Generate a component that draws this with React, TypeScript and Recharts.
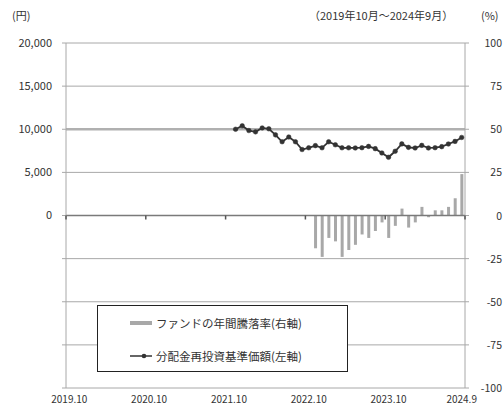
import { ComposedChart, Bar, Line, XAxis, YAxis, CartesianGrid, ReferenceLine } from 'recharts'

// month categories, 2019.10 - 2024.9
const months = [
  '2019.10', '2019.11', '2019.12',
  '2020.1', '2020.2', '2020.3', '2020.4', '2020.5', '2020.6', '2020.7', '2020.8', '2020.9', '2020.10', '2020.11', '2020.12',
  '2021.1', '2021.2', '2021.3', '2021.4', '2021.5', '2021.6', '2021.7', '2021.8', '2021.9', '2021.10', '2021.11', '2021.12',
  '2022.1', '2022.2', '2022.3', '2022.4', '2022.5', '2022.6', '2022.7', '2022.8', '2022.9', '2022.10', '2022.11', '2022.12',
  '2023.1', '2023.2', '2023.3', '2023.4', '2023.5', '2023.6', '2023.7', '2023.8', '2023.9', '2023.10', '2023.11', '2023.12',
  '2024.1', '2024.2', '2024.3', '2024.4', '2024.5', '2024.6', '2024.7', '2024.8', '2024.9',
]

// 分配金再投資基準価額 (円), from 2021.11
const navStart = '2021.11'
const navValues = [
  10000, 10400, 9850, 9700, 10150, 10050, 9350, 8550, 9100, 8550,
  7650, 7850, 8100, 7850, 8550, 8200, 7850, 7850, 7830, 7860,
  8010, 7750, 7250, 6750, 7450, 8300, 7900, 7830, 8130, 7830,
  7860, 7980, 8290, 8590, 9050,
]

// ファンドの年間騰落率 (%), from 2022.11
const returnStart = '2022.11'
const returnValues = [
  -19, -24, -13, -15, -24, -20, -17, -11, -13, -9,
  -4, -13, -6, 4, -7, -4, 5, -1, 3, 3,
  5, 10, 24,
]

const yenTicks = [-20000, -15000, -10000, -5000, 0, 5000, 10000, 15000, 20000]
const pctTicks = [-100, -75, -50, -25, 0, 25, 50, 75, 100]
const labelMonths = ['2019.10', '2020.10', '2021.10', '2022.10', '2023.10', '2024.9']

const navIdx = months.indexOf(navStart)
const retIdx = months.indexOf(returnStart)
const data = months.map((month, i) => ({
  month,
  nav: i >= navIdx ? navValues[i - navIdx] : null,
  ret: i >= retIdx ? returnValues[i - retIdx] : null,
}))

const W = 503
const H = 407
const TOP = 43
const LEFT_W = 66
const RIGHT_W = 38
const X_H = 19
const PLOT_W = W - LEFT_W - RIGHT_W
const PLOT_H = H - TOP - X_H
const BAND = PLOT_W / months.length
const ZERO_Y = TOP + PLOT_H / 2

const GRID = '#a8a8a8'
const INK = '#333'

function MonthTick(props: any) {
  const { x, payload } = props
  const i = months.indexOf(payload.value)
  if (!labelMonths.includes(payload.value)) return null
  const markX = i === months.length - 1 ? x + BAND / 2 : x - BAND / 2
  return (
    <g>
      <line x1={markX} x2={markX} y1={ZERO_Y} y2={ZERO_Y + 4} stroke="#555" strokeWidth={1.5} />
      <text x={x} y={H - 4} textAnchor="middle" fontSize={10} fill={INK}>{payload.value}</text>
    </g>
  )
}

function PctTick(props: any) {
  const { y, payload } = props
  return (
    <text x={W - 1} y={y} dy={4} textAnchor="end" fontSize={10.5} fill={INK}>{payload.value}</text>
  )
}

function LegendBox() {
  return (
    <div style={{
      position: 'absolute', left: 97, top: 305, width: 249, height: 65,
      border: '1.5px solid #222', background: '#fff', fontSize: 11.5, color: INK,
    }}>
      <div style={{ position: 'absolute', left: 32, top: 9, display: 'flex', alignItems: 'center', gap: 4 }}>
        <div style={{ width: 22, height: 4, background: '#a8a8a8' }} />
        <span>ファンドの年間騰落率(右軸)</span>
      </div>
      <div style={{ position: 'absolute', left: 32, top: 42, display: 'flex', alignItems: 'center', gap: 4 }}>
        <svg width={22} height={6}>
          <line x1={0} x2={22} y1={3} y2={3} stroke={INK} strokeWidth={1.5} />
          <circle cx={14} cy={3} r={2.3} fill={INK} />
        </svg>
        <span>分配金再投資基準価額(左軸)</span>
      </div>
    </div>
  )
}

export default function App() {
  return (
    <div style={{
      position: 'fixed', left: 0, top: 0, width: W, height: H, overflow: 'hidden',
      background: '#fff', fontFamily: '"Noto Sans CJK JP", sans-serif', color: INK,
    }}>
      <div style={{ position: 'absolute', left: 12, top: 7, fontSize: 11 }}>(円)</div>
      <div style={{ position: 'absolute', left: 309, top: 7, fontSize: 11 }}>（2019年10月～2024年9月）</div>
      <div style={{ position: 'absolute', left: 481, top: 7, fontSize: 11 }}>(%)</div>

      <ComposedChart
        width={W}
        height={H}
        data={data}
        margin={{ top: TOP, right: 0, bottom: 0, left: 0 }}
        style={{ position: 'absolute', left: 0, top: 0 }}
      >
        <CartesianGrid vertical={false} yAxisId="left" stroke={GRID} />
        <XAxis
          dataKey="month"
          height={X_H}
          interval={0}
          axisLine={false}
          tickLine={false}
          tick={<MonthTick />}
        />
        <YAxis
          yAxisId="left"
          width={LEFT_W}
          domain={[-20000, 20000]}
          ticks={yenTicks}
          tickFormatter={(v: number) => (v >= 0 ? v.toLocaleString('en-US') : '')}
          axisLine={{ stroke: GRID }}
          tickLine={{ stroke: GRID }}
          tickSize={4}
          tickMargin={10}
          tick={{ fontSize: 11, fill: INK }}
        />
        <YAxis
          yAxisId="right"
          orientation="right"
          width={RIGHT_W}
          domain={[-100, 100]}
          ticks={pctTicks}
          axisLine={{ stroke: GRID }}
          tickLine={{ stroke: GRID }}
          tickSize={4}
          tick={<PctTick />}
        />
        <ReferenceLine yAxisId="left" y={10000} stroke="#b0b0b0" strokeWidth={2.5} />
        <Bar yAxisId="right" dataKey="ret" fill="#a8a8a8" barSize={3} isAnimationActive={false} />
        <ReferenceLine yAxisId="left" y={0} stroke="#7a7a7a" strokeWidth={1.5} />
        <Line
          yAxisId="left"
          dataKey="nav"
          stroke={INK}
          strokeWidth={1.8}
          dot={{ r: 2.3, fill: INK, stroke: INK, strokeWidth: 0.5 }}
          isAnimationActive={false}
        />
      </ComposedChart>

      <LegendBox />
    </div>
  )
}
